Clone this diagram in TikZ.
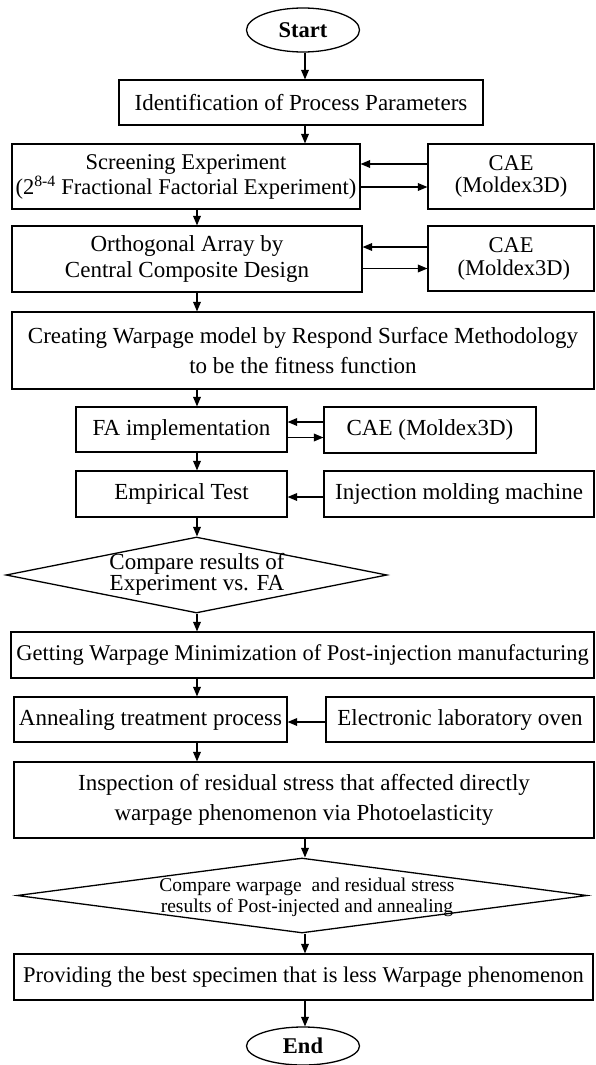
\documentclass[tikz,border=0pt]{standalone}
\usepackage{fontspec}
\setmainfont{Liberation Serif}
\usetikzlibrary{arrows,shapes.geometric}

\begin{document}
\begin{tikzpicture}[x=1pt,y=-1pt,>=triangle 45,
	box/.style={draw,line width=1.3pt,align=center,inner sep=0pt,font=\fontsize{22.5}{25}\selectfont},
	term/.style={ellipse,draw,line width=1.3pt,inner sep=0pt,minimum width=113pt,font=\fontsize{22.5}{25}\selectfont\bfseries},
	dmd/.style={diamond,draw,line width=1.3pt,inner sep=0pt},
	flow/.style={->,line width=1.2pt}]
	\useasboundingbox (0,0) rectangle (595,1065);
	% columns of the main arrows
	\coordinate (colL) at (197,0);
	\coordinate (colR) at (305,0);
	\node[term,minimum height=44pt] (start) at (303,30) {Start};
	\node[box,minimum width=364pt,minimum height=45pt,font=\fontsize{23}{25}\selectfont] (ident) at (301,102.5) {Identification of Process Parameters};
	\node[box,minimum width=348pt,minimum height=65pt] (screen) at (186,176.5) {Screening Experiment\\(2\textsuperscript{8-4} Fractional Factorial Experiment)};
	\node[box,minimum width=166pt,minimum height=65pt,font=\fontsize{22.5}{22}\selectfont] (cae1) at (511,176.5) {CAE\\(Moldex3D)};
	\node[box,minimum width=350pt,minimum height=66pt,font=\fontsize{23}{26}\selectfont] (ortho) at (187,259) {Orthogonal Array by\\Central Composite Design};
	\node[box,minimum width=166pt,minimum height=65pt,font=\fontsize{22.5}{23}\selectfont] (cae2) at (511,258.5) {CAE\\\ (Moldex3D)};
	\node[box,minimum width=582pt,minimum height=77pt,font=\fontsize{23}{30}\selectfont] (create) at (303,350.5) {Creating Warpage model by Respond Surface Methodology\\to be the fitness function};
	\node[box,minimum width=211pt,minimum height=45pt,font=\fontsize{23}{25}\selectfont] (fa) at (181.5,429.5) {FA implementation};
	\node[box,minimum width=212pt,minimum height=46pt,font=\fontsize{23}{25}\selectfont] (cae3) at (430,430) {CAE (Moldex3D)};
	\node[box,minimum width=211pt,minimum height=46pt,font=\fontsize{23}{25}\selectfont] (empir) at (181.5,494) {Empirical Test};
	\node[box,minimum width=270pt,minimum height=46pt,font=\fontsize{23}{25}\selectfont] (inject) at (459,494) {Injection molding machine};
	\node[dmd,minimum width=381pt,minimum height=76pt] (cmp1) at (196.5,575) {};
	\node[align=center,inner sep=0pt,font=\fontsize{23}{18}\selectfont] (cmp1t) at (197,574) {Compare results of\\Experiment vs. FA};
	\node[box,minimum width=583pt,minimum height=46pt] (getting) at (302.5,655) {Getting Warpage Minimization of Post-injection manufacturing};
	\node[box,minimum width=273pt,minimum height=45pt,font=\fontsize{23}{25}\selectfont] (anneal) at (150.5,719.5) {Annealing treatment process};
	\node[box,minimum width=268pt,minimum height=45pt,font=\fontsize{23}{25}\selectfont] (oven) at (460,719.5) {Electronic laboratory oven};
	\node[box,minimum width=580pt,minimum height=76pt,font=\fontsize{23}{30}\selectfont] (inspect) at (304,800) {Inspection of residual stress that affected directly\\warpage phenomenon via Photoelasticity};
	\node[dmd,minimum width=570pt,minimum height=75pt] (cmp2) at (302,895.5) {};
	\node[align=center,inner sep=0pt,font=\fontsize{19.5}{21}\selectfont] (cmp2t) at (307,897) {Compare warpage\ \ and residual stress\\results of Post-injected and annealing};
	\node[box,minimum width=579pt,minimum height=46pt] (provide) at (303.5,977) {Providing the best specimen that is less Warpage phenomenon};
	\node[term,minimum height=38pt] (end) at (303,1046) {End};
	% main flow
	\draw[flow] (start.south -| colR) -- (ident.north -| colR);
	\draw[flow] (ident.south -| colR) -- (screen.north -| colR);
	\draw[flow] (screen.south -| colL) -- (ortho.north -| colL);
	\draw[flow] (ortho.south -| colL) -- (create.north -| colL);
	\draw[flow] (create.south -| colL) -- (fa.north -| colL);
	\draw[flow] (fa.south -| colL) -- (empir.north -| colL);
	\draw[flow] (empir.south -| colL) -- (cmp1.north -| colL);
	\draw[flow] (cmp1.south -| colL) -- (getting.north -| colL);
	\draw[flow] (getting.south -| colL) -- (anneal.north -| colL);
	\draw[flow] (anneal.south -| colL) -- (inspect.north -| colL);
	\draw[flow] (inspect.south -| colR) -- (cmp2.north -| colR);
	\draw[flow] (cmp2.south -| colR) -- (provide.north -| colR);
	\draw[flow] (provide.south -| colR) -- (end.north -| colR);
	% side inputs
	\draw[flow] ([yshift=12.5pt]cae1.west) -- ([yshift=12.5pt]cae1.west -| screen.east);
	\draw[flow] ([yshift=-10.5pt]screen.east) -- ([yshift=-10.5pt]screen.east -| cae1.west);
	\draw[flow] ([yshift=11.5pt]cae2.west) -- ([yshift=11.5pt]cae2.west -| ortho.east);
	\draw[flow] ([yshift=-9.5pt]ortho.east) -- ([yshift=-9.5pt]ortho.east -| cae2.west);
	\draw[flow] ([yshift=8pt]cae3.west) -- ([yshift=8pt]cae3.west -| fa.east);
	\draw[flow] ([yshift=-8pt]fa.east) -- ([yshift=-8pt]fa.east -| cae3.west);
	\draw[flow] ([yshift=-3pt]inject.west) -- ([yshift=-3pt]inject.west -| empir.east);
	\draw[flow] ([yshift=-2.5pt]oven.west) -- ([yshift=-2.5pt]oven.west -| anneal.east);
\end{tikzpicture}
\end{document}
